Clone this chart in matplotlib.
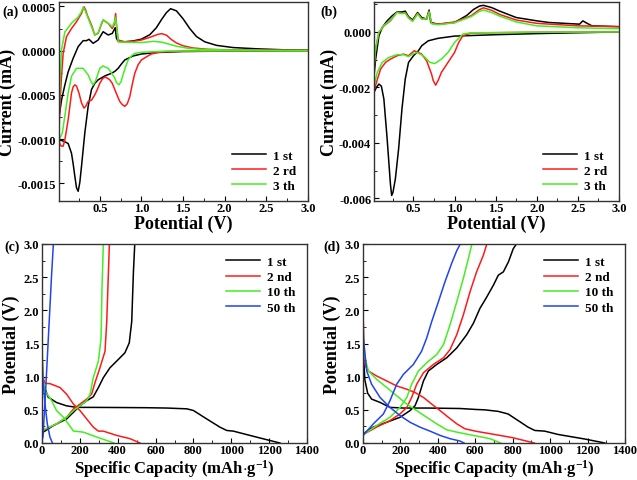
import numpy as np
import matplotlib
matplotlib.use("Agg")
import matplotlib.pyplot as plt
from matplotlib.ticker import MultipleLocator, FormatStrFormatter

plt.rcParams['font.family'] = ['Liberation Serif', 'DejaVu Serif']
plt.rcParams['font.weight'] = 'bold'
plt.rcParams['mathtext.fontset'] = 'custom'
plt.rcParams['mathtext.rm'] = 'Liberation Serif:bold'
plt.rcParams['mathtext.bf'] = 'Liberation Serif:bold'
plt.rcParams['mathtext.default'] = 'bf'

# ---------- (a) CV, current in units of 1e-4 mA ----------
a1_v = [3.0, 2.5, 2.0, 1.5, 1.2, 1.0, 0.9, 0.8, 0.76, 0.72, 0.68, 0.64, 0.56, 0.48, 0.44, 0.4, 0.36, 0.32,
        0.28, 0.26, 0.24, 0.22, 0.2, 0.18, 0.16, 0.12, 0.08, 0.04, 0.012,
        0.012, 0.04, 0.08, 0.12, 0.18, 0.24, 0.3, 0.34, 0.37, 0.42, 0.48, 0.54, 0.6, 0.65, 0.685, 0.7, 0.72,
        0.8, 0.9, 1.0, 1.1, 1.18, 1.24, 1.3, 1.35, 1.42, 1.5, 1.58, 1.66, 1.76, 1.9, 2.1, 2.4, 2.7, 3.0]
a1_i = [0.0, -0.02, -0.05, -0.1, -0.2, -0.38, -0.6, -1.05, -1.5, -2.0, -2.35, -2.56, -2.86, -3.3, -3.7, -4.4, -6.3, -9.3,
        -13.1, -14.9, -15.9, -15.5, -14.2, -12.8, -11.6, -10.5, -10.3, -10.15, -10.1,
        -7.4, -5.6, -3.9, -2.4, -0.86, 0.45, 1.13, 1.13, 1.28, 0.83, 1.2, 2.14, 1.77, 1.95, 2.6, 1.4, 1.05,
        1.0, 1.1, 1.3, 1.8, 2.6, 3.5, 4.3, 4.74, 4.5, 3.6, 2.5, 1.6, 1.0, 0.6, 0.35, 0.2, 0.1, 0.05]

a2_v = [3.0, 2.0, 1.5, 1.32, 1.2, 1.12, 1.06, 1.0, 0.96, 0.92, 0.89, 0.86, 0.83, 0.8, 0.77, 0.74, 0.71, 0.68,
        0.65, 0.62, 0.58, 0.56, 0.53, 0.5, 0.47, 0.44, 0.4, 0.36, 0.33, 0.31, 0.28, 0.25, 0.22, 0.2, 0.18,
        0.16, 0.12, 0.08, 0.06, 0.04, 0.02, 0.012,
        0.012, 0.024, 0.04, 0.06, 0.1, 0.16, 0.22, 0.28, 0.31, 0.33, 0.35, 0.4, 0.44, 0.48, 0.52, 0.54, 0.6,
        0.65, 0.675, 0.69, 0.7, 0.72, 0.8, 0.9, 1.0, 1.1, 1.2, 1.245, 1.3, 1.36, 1.42, 1.5, 1.62, 1.8, 2.0,
        2.5, 3.0]
a2_i = [0.0, -0.03, -0.06, -0.11, -0.2, -0.38, -0.7, -1.05, -1.6, -2.56, -3.8, -5.2, -6.0, -6.3, -6.1, -5.75,
        -5.1, -4.4, -3.7, -3.3, -3.05, -3.0, -3.2, -3.7, -4.4, -5.0, -5.6, -5.75, -6.3, -6.5, -5.9, -4.8,
        -4.0, -3.87, -4.1, -4.8, -7.8, -10.1, -10.8, -10.8, -10.6, -10.0,
        -8.6, -5.6, -2.9, -0.3, 1.58, 2.5, 3.27, 4.2, 4.96, 4.6, 4.0, 2.9, 1.77, 1.96, 3.0, 3.46, 3.08,
        2.5, 3.0, 4.2, 3.0, 1.2, 1.0, 1.05, 1.2, 1.5, 1.85, 1.92, 1.75, 1.25, 0.87, 0.55, 0.3, 0.15, 0.1,
        0.05, 0.02]

a3_v = [3.0, 2.0, 1.3, 1.0, 0.92, 0.88, 0.84, 0.81, 0.78, 0.755, 0.73, 0.7, 0.68, 0.64, 0.6, 0.54, 0.5, 0.48,
        0.45, 0.42, 0.39, 0.36, 0.3, 0.22, 0.16, 0.12, 0.08, 0.05, 0.02, 0.012,
        0.012, 0.024, 0.04, 0.08, 0.16, 0.24, 0.28, 0.3, 0.32, 0.35, 0.4, 0.44, 0.48, 0.52, 0.54, 0.6, 0.65,
        0.675, 0.69, 0.705, 0.72, 0.8, 1.0, 1.15, 1.25, 1.42, 1.55, 1.7, 2.0, 2.5, 3.0]
a3_i = [0.0, -0.02, -0.05, -0.19, -0.3, -0.6, -1.05, -1.8, -2.7, -3.5, -3.87, -3.6, -3.1, -2.5, -2.0, -1.73,
        -2.0, -2.56, -3.4, -3.87, -3.4, -2.74, -2.0, -2.0, -2.9, -4.8, -7.4, -9.3, -9.9, -9.9,
        -6.7, -3.3, 0.08, 2.1, 3.1, 3.8, 4.4, 4.9, 4.6, 3.9, 2.7, 1.77, 2.0, 3.1, 3.5, 3.1, 2.7,
        3.2, 3.76, 2.5, 1.0, 0.95, 0.92, 1.05, 0.95, 0.5, 0.28, 0.15, 0.08, 0.04, 0.02]

# ---------- (b) CV, current in units of 1e-3 mA ----------
b1_v = [3.0, 2.5, 2.0, 1.5, 1.0, 0.8, 0.68, 0.6, 0.56, 0.5, 0.44, 0.4, 0.36, 0.32, 0.28, 0.25, 0.235, 0.22,
        0.18, 0.14, 0.11, 0.08, 0.05, 0.02,
        0.02, 0.04, 0.08, 0.12, 0.18, 0.24, 0.3, 0.36, 0.4, 0.44, 0.49, 0.55, 0.6, 0.66, 0.69, 0.71, 0.8,
        1.0, 1.15, 1.23, 1.3, 1.35, 1.45, 1.55, 1.75, 2.0, 2.15, 2.4, 2.52, 2.56, 2.6, 2.67, 3.0]
b1_i = [0.0, -0.03, -0.06, -0.1, -0.15, -0.23, -0.32, -0.5, -0.68, -0.86, -1.1, -1.7, -2.78, -4.2, -5.3,
        -5.8, -5.9, -5.5, -3.86, -2.42, -1.96, -1.88, -2.0, -2.18,
        -1.58, -0.98, -0.14, 0.16, 0.4, 0.58, 0.72, 0.72, 0.75, 0.55, 0.43, 0.7, 0.52, 0.46, 0.79, 0.34,
        0.28, 0.34, 0.6, 0.81, 0.93, 0.96, 0.88, 0.75, 0.52, 0.4, 0.34, 0.3, 0.28, 0.4, 0.33, 0.22, 0.19]

b2_v = [3.0, 2.0, 1.2, 1.1, 1.05, 1.0, 0.92, 0.84, 0.8, 0.77, 0.74, 0.72, 0.66, 0.6, 0.56, 0.51, 0.47, 0.44,
        0.4, 0.38, 0.3, 0.22, 0.16, 0.1, 0.05, 0.012,
        0.012, 0.04, 0.08, 0.14, 0.22, 0.3, 0.36, 0.4, 0.44, 0.49, 0.55, 0.6, 0.66, 0.69, 0.72, 0.8, 1.0,
        1.2, 1.3, 1.35, 1.45, 1.55, 1.75, 2.0, 2.5, 3.0]
b2_i = [0.0, -0.01, -0.04, -0.14, -0.38, -0.74, -1.1, -1.46, -1.75, -1.92, -1.75, -1.52, -1.04, -0.8,
        -0.74, -0.68, -0.78, -0.86, -0.82, -0.8, -0.86, -0.98, -1.1, -1.34, -1.82, -2.18,
        -1.58, -0.62, -0.02, 0.22, 0.4, 0.72, 0.67, 0.69, 0.52, 0.4, 0.67, 0.48, 0.48, 0.75, 0.31, 0.28,
        0.36, 0.58, 0.8, 0.87, 0.78, 0.63, 0.43, 0.31, 0.22, 0.19]

b3_v = [3.0, 2.0, 1.2, 1.1, 1.0, 0.92, 0.84, 0.76, 0.7, 0.62, 0.54, 0.49, 0.44, 0.38, 0.3, 0.2, 0.12, 0.06,
        0.012,
        0.012, 0.04, 0.08, 0.14, 0.22, 0.3, 0.36, 0.4, 0.44, 0.49, 0.55, 0.6, 0.66, 0.69, 0.72, 0.8, 1.0,
        1.2, 1.3, 1.35, 1.45, 1.55, 1.75, 2.0, 2.5, 3.0]
b3_i = [0.0, -0.01, -0.03, -0.08, -0.38, -0.74, -0.98, -1.14, -1.1, -0.86, -0.74, -0.8, -0.89, -0.82,
        -0.82, -0.92, -1.1, -1.46, -2.06,
        -1.55, -0.6, 0.0, 0.23, 0.42, 0.7, 0.66, 0.68, 0.5, 0.38, 0.65, 0.46, 0.47, 0.72, 0.3, 0.26, 0.33,
        0.55, 0.74, 0.79, 0.7, 0.57, 0.36, 0.22, 0.15, 0.12]

# ---------- (c) charge/discharge ----------
c1_dis_c = [7, 33, 77, 130, 183, 254, 400, 550, 659, 765, 800, 870, 940, 976, 1011, 1099, 1187, 1257]
c1_dis_v = [0.885, 0.69, 0.61, 0.56, 0.537, 0.537, 0.535, 0.532, 0.527, 0.515, 0.49, 0.363, 0.239, 0.189,
            0.179, 0.114, 0.05, 0.0]
c1_chg_c = [0, 7, 60, 130, 166, 201, 236, 271, 298, 324, 359, 403, 438, 461, 474, 483, 490]
c1_chg_v = [0.1, 0.164, 0.263, 0.363, 0.463, 0.562, 0.637, 0.697, 0.836, 0.985, 1.134, 1.259, 1.36, 1.51,
            1.83, 2.58, 3.0]

c2_dis_c = [0, 5, 15, 42, 95, 130, 166, 201, 236, 271, 298, 324, 395, 465, 518]
c2_dis_v = [1.35, 1.0, 0.9, 0.895, 0.836, 0.736, 0.587, 0.488, 0.363, 0.239, 0.179, 0.179, 0.114, 0.065, 0.0]
c2_chg_c = [0, 7, 77, 130, 166, 201, 236, 262, 280, 306, 333, 342, 351, 356]
c2_chg_v = [0.1, 0.19, 0.288, 0.388, 0.512, 0.587, 0.662, 0.736, 0.91, 1.134, 1.383, 1.83, 2.58, 3.0]

c10_dis_c = [0, 4, 16, 51, 77, 113, 139, 166, 218, 289, 380]
c10_dis_v = [1.63, 0.985, 0.786, 0.637, 0.488, 0.388, 0.288, 0.18, 0.164, 0.09, 0.0]
c10_chg_c = [0, 7, 77, 130, 166, 201, 236, 254, 271, 298, 312, 317, 324]
c10_chg_v = [0.1, 0.2, 0.288, 0.388, 0.488, 0.562, 0.637, 0.736, 0.985, 1.234, 1.58, 2.33, 3.0]

c50_dis_c = [0, 4, 16, 28, 42, 55]
c50_dis_v = [1.4, 0.985, 0.587, 0.288, 0.09, 0.0]
c50_chg_c = [0, 5, 20, 38, 50, 60]
c50_chg_v = [0.05, 0.09, 0.836, 1.83, 2.5, 3.0]

# ---------- (d) charge/discharge ----------
d1_dis_c = [0, 3, 10, 25, 46, 91, 144, 216, 340, 518, 607, 650, 722, 775, 829, 882, 918, 971, 1042, 1185, 1292]
d1_dis_v = [1.9, 1.3, 0.95, 0.75, 0.662, 0.612, 0.537, 0.527, 0.527, 0.52, 0.505, 0.5, 0.477, 0.438, 0.338,
            0.239, 0.189, 0.179, 0.129, 0.06, 0.0]
d1_chg_c = [0, 2, 55, 127, 198, 251, 278, 296, 323, 349, 394, 447, 501, 554, 590, 625, 661, 697, 723, 750,
            777, 803, 820]
d1_chg_v = [0.08, 0.14, 0.24, 0.313, 0.388, 0.488, 0.562, 0.687, 0.935, 1.085, 1.184, 1.284, 1.433, 1.632,
            1.806, 2.03, 2.2, 2.38, 2.53, 2.58, 2.73, 2.93, 3.0]

d2_dis_c = [0, 5, 15, 29, 73, 127, 180, 234, 278, 323, 367, 412, 456, 501, 545, 607, 700, 800, 915]
d2_dis_v = [2.0, 1.4, 1.15, 1.085, 1.01, 0.935, 0.86, 0.811, 0.761, 0.687, 0.587, 0.488, 0.388, 0.289, 0.214,
            0.175, 0.13, 0.08, 0.0]
d2_chg_c = [0, 2, 73, 144, 198, 234, 260, 287, 323, 376, 430, 465, 501, 536, 572, 607, 643, 662]
d2_chg_v = [0.08, 0.13, 0.24, 0.338, 0.438, 0.537, 0.687, 0.886, 1.06, 1.184, 1.284, 1.408, 1.632, 1.93, 2.28,
            2.58, 2.83, 3.0]

d10_dis_c = [0, 2, 11, 29, 73, 127, 180, 234, 287, 340, 394, 447, 501, 590, 679, 735]
d10_dis_v = [1.7, 1.58, 1.28, 1.085, 0.96, 0.836, 0.712, 0.587, 0.488, 0.388, 0.289, 0.199, 0.164, 0.114,
             0.065, 0.0]
d10_chg_c = [0, 2, 73, 144, 198, 234, 260, 296, 340, 394, 430, 465, 501, 536, 563, 582]
d10_chg_v = [0.08, 0.13, 0.263, 0.388, 0.537, 0.687, 0.886, 1.085, 1.209, 1.334, 1.483, 1.782, 2.13, 2.48,
             2.78, 3.0]

d50_dis_c = [0, 1, 2, 20, 46, 91, 144, 198, 251, 305, 358, 412, 465, 518, 540]
d50_dis_v = [2.6, 2.0, 1.58, 1.085, 0.886, 0.687, 0.537, 0.413, 0.313, 0.238, 0.179, 0.114, 0.065, 0.03, 0.0]
d50_chg_c = [0, 2, 55, 109, 144, 180, 216, 269, 313, 340, 367, 403, 438, 474, 501, 520]
d50_chg_v = [0.08, 0.12, 0.288, 0.438, 0.637, 0.886, 1.035, 1.184, 1.383, 1.58, 1.83, 2.13, 2.43, 2.71, 2.9,
             3.0]

cv_labels = ['1 st', '2 rd', '3 th']
gcd_labels = ['1 st', '2 nd', '10 th', '50 th']
colors = ['black', '#ff1a1a', '#44ee22', '#2244ee']

fig = plt.figure(figsize=(6.37, 4.81), dpi=100)
W, H = 637.0, 481.0


def make_axes(l, r, t, b):
    return fig.add_axes([l / W, 1 - b / H, (r - l) / W, (b - t) / H])


def style(ax, xmaj, xmin, ymaj, ymin):
    ax.xaxis.set_major_locator(MultipleLocator(xmaj))
    ax.xaxis.set_minor_locator(MultipleLocator(xmin))
    ax.yaxis.set_major_locator(MultipleLocator(ymaj))
    ax.yaxis.set_minor_locator(MultipleLocator(ymin))
    ax.tick_params(which='both', direction='in', labelsize=9, pad=2)
    ax.tick_params(axis='x', which='both', pad=1)
    ax.tick_params(which='major', length=3.5)
    ax.tick_params(which='minor', length=2)
    for s in ax.spines.values():
        s.set_linewidth(1.0)
        s.set_color('#333333')
    for t in ax.get_xticklabels() + ax.get_yticklabels():
        t.set_fontweight('bold')


lw = 1.1
leg_kw = dict(frameon=False, handlelength=2.6, handletextpad=0.5, labelspacing=0.22,
              prop={'weight': 'bold', 'size': 9.5, 'family': 'Liberation Serif'})
cap_label = r'Specific Capacity (mAh$\cdot$g$^{-1}$)'

# (a)
ax = make_axes(59, 308, 3, 202)
for v, i, c, lab in zip([a1_v, a2_v, a3_v], [a1_i, a2_i, a3_i], colors, cv_labels):
    ax.plot(v, np.array(i) * 1e-4, color=c, lw=lw, label=lab)
ax.set_xlim(0.01, 3.0)
ax.set_ylim(-0.0017, 0.00055)
style(ax, 0.5, 0.25, 0.0005, 0.00025)
ax.yaxis.set_major_formatter(FormatStrFormatter('%.4f'))
ax.xaxis.set_major_formatter(FormatStrFormatter('%.1f'))
ax.set_xlabel('Potential (V)', fontsize=13, fontweight='bold', labelpad=0)
ax.set_ylabel('Current (mA)', fontsize=13, fontweight='bold', labelpad=1)
ax.legend(loc='lower right', bbox_to_anchor=(1.0, -0.015), **leg_kw)

# (b)
ax = make_axes(374, 619, 3, 202)
for v, i, c, lab in zip([b1_v, b2_v, b3_v], [b1_i, b2_i, b3_i], colors, cv_labels):
    ax.plot(v, np.array(i) * 1e-3, color=c, lw=lw, label=lab)
ax.set_xlim(0.02, 3.0)
ax.set_ylim(-0.0061, 0.00108)
style(ax, 0.5, 0.25, 0.002, 0.001)
ax.yaxis.set_major_formatter(FormatStrFormatter('%.3f'))
ax.xaxis.set_major_formatter(FormatStrFormatter('%.1f'))
ax.set_xlabel('Potential (V)', fontsize=13, fontweight='bold', labelpad=0)
ax.set_ylabel('Current (mA)', fontsize=13, fontweight='bold', labelpad=1)
ax.legend(loc='lower right', bbox_to_anchor=(1.0, -0.015), **leg_kw)

# (c)
ax = make_axes(42, 307, 245, 444)
series_c = [(c1_dis_c, c1_dis_v, c1_chg_c, c1_chg_v), (c2_dis_c, c2_dis_v, c2_chg_c, c2_chg_v),
            (c10_dis_c, c10_dis_v, c10_chg_c, c10_chg_v), (c50_dis_c, c50_dis_v, c50_chg_c, c50_chg_v)]
for (dc, dv, cc, cv), col, lab in zip(series_c, colors, gcd_labels):
    ax.plot(dc, dv, color=col, lw=lw, label=lab)
    ax.plot(cc, cv, color=col, lw=lw)
ax.set_xlim(0, 1400)
ax.set_ylim(0, 3.0)
style(ax, 200, 100, 0.5, 0.25)
ax.yaxis.set_major_formatter(FormatStrFormatter('%.1f'))
ax.set_xlabel(cap_label, fontsize=12, fontweight='bold', va='bottom')
ax.xaxis.set_label_coords(0.5, -(480.5 - 444) / 199.0)
ax.set_ylabel('Potential (V)', fontsize=13, fontweight='bold', labelpad=3)
ax.legend(loc='upper right', bbox_to_anchor=(1.0, 1.0), **leg_kw)

# (d)
ax = make_axes(363, 625, 245, 444)
series_d = [(d1_dis_c, d1_dis_v, d1_chg_c, d1_chg_v), (d2_dis_c, d2_dis_v, d2_chg_c, d2_chg_v),
            (d10_dis_c, d10_dis_v, d10_chg_c, d10_chg_v), (d50_dis_c, d50_dis_v, d50_chg_c, d50_chg_v)]
for (dc, dv, cc, cv), col, lab in zip(series_d, colors, gcd_labels):
    ax.plot(dc, dv, color=col, lw=lw, label=lab)
    ax.plot(cc, cv, color=col, lw=lw)
ax.set_xlim(0, 1400)
ax.set_ylim(0, 3.0)
style(ax, 200, 100, 0.5, 0.25)
ax.yaxis.set_major_formatter(FormatStrFormatter('%.1f'))
ax.set_xlabel(cap_label, fontsize=12, fontweight='bold', va='bottom')
ax.xaxis.set_label_coords(0.5, -(480.5 - 444) / 199.0)
ax.set_ylabel('Potential (V)', fontsize=13, fontweight='bold', labelpad=3)
ax.legend(loc='upper right', bbox_to_anchor=(1.0, 1.0), **leg_kw)

# panel letters
for x, y, s in [(2, 12, '(a)'), (320, 12, '(b)'), (4, 247, '(c)'), (323, 247, '(d)')]:
    fig.text(x / W, 1 - y / H, s, fontsize=10, fontweight='bold', va='center', ha='left')

fig.savefig('out.png', dpi=100)
